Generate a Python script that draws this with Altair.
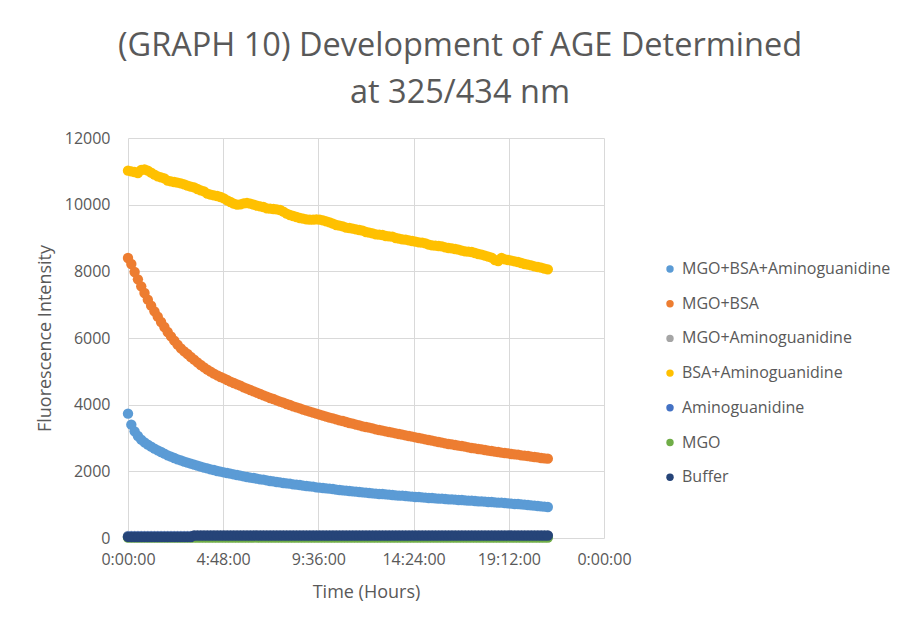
import altair as alt
import pandas as pd

# ---- data ----
series_names = [
    "MGO+BSA+Aminoguanidine",
    "MGO+BSA",
    "MGO+Aminoguanidine",
    "BSA+Aminoguanidine",
    "Aminoguanidine",
    "MGO",
    "Buffer",
]
series_colors = ["#5B9BD5", "#ED7D31", "#A5A5A5", "#FFC000", "#4472C4", "#70AD47", "#264478"]

# readings every 10 minutes, 0:00 .. 21:10 (one row per hour)
times_hours = [i / 6 for i in range(128)]

mgo_bsa_amino = [
    3730, 3400, 3200, 3060, 2950, 2870,
    2800, 2740, 2680, 2630, 2580, 2530,
    2480, 2440, 2400, 2360, 2330, 2290,
    2260, 2230, 2200, 2170, 2140, 2110,
    2090, 2060, 2040, 2010, 1990, 1970,
    1950, 1930, 1910, 1890, 1870, 1850,
    1830, 1810, 1800, 1780, 1760, 1750,
    1730, 1710, 1700, 1680, 1670, 1650,
    1640, 1630, 1610, 1600, 1590, 1570,
    1560, 1550, 1540, 1520, 1510, 1500,
    1490, 1480, 1470, 1450, 1440, 1430,
    1420, 1410, 1400, 1390, 1380, 1370,
    1360, 1350, 1340, 1330, 1320, 1320,
    1310, 1300, 1290, 1280, 1270, 1270,
    1260, 1250, 1240, 1230, 1230, 1220,
    1210, 1200, 1200, 1190, 1180, 1180,
    1170, 1160, 1160, 1150, 1140, 1140,
    1130, 1120, 1120, 1110, 1100, 1100,
    1090, 1080, 1080, 1070, 1060, 1060,
    1050, 1040, 1030, 1020, 1020, 1010,
    1000, 990, 980, 970, 960, 950,
    940, 930,
]
mgo_bsa = [
    8400, 8220, 7980, 7760, 7550, 7350,
    7150, 6970, 6800, 6640, 6480, 6330,
    6180, 6050, 5920, 5800, 5690, 5600,
    5520, 5430, 5350, 5270, 5190, 5120,
    5050, 4990, 4930, 4880, 4830, 4790,
    4740, 4690, 4650, 4610, 4570, 4520,
    4480, 4440, 4400, 4360, 4320, 4280,
    4240, 4200, 4170, 4130, 4090, 4060,
    4020, 3990, 3950, 3920, 3890, 3850,
    3820, 3790, 3760, 3730, 3700, 3670,
    3640, 3610, 3590, 3560, 3530, 3510,
    3480, 3450, 3430, 3400, 3380, 3350,
    3330, 3310, 3290, 3260, 3240, 3220,
    3200, 3180, 3160, 3140, 3120, 3100,
    3080, 3060, 3040, 3020, 3000, 2980,
    2960, 2940, 2920, 2900, 2880, 2860,
    2840, 2820, 2810, 2790, 2770, 2760,
    2740, 2720, 2700, 2690, 2670, 2660,
    2640, 2620, 2610, 2590, 2580, 2560,
    2550, 2540, 2520, 2510, 2500, 2480,
    2470, 2460, 2440, 2430, 2420, 2400,
    2390, 2380,
]
mgo_amino = [
    60, 61, 59, 60, 62, 60,
    59, 61, 60, 60, 61, 59,
    60, 62, 60, 61, 60, 59,
    60, 61, 60, 60, 62, 59,
    60, 61, 60, 59, 60, 61,
    60, 62, 60, 59, 61, 60,
    60, 59, 61, 60, 62, 60,
    59, 60, 61, 60, 60, 61,
    59, 60, 62, 60, 61, 60,
    59, 60, 61, 60, 62, 60,
    59, 61, 60, 60, 61, 59,
    60, 61, 60, 62, 60, 59,
    61, 60, 60, 61, 59, 60,
    62, 60, 61, 60, 59, 60,
    61, 60, 60, 59, 61, 60,
    62, 60, 59, 60, 61, 60,
    60, 61, 59, 60, 62, 60,
    61, 60, 59, 60, 61, 60,
    60, 62, 60, 59, 61, 60,
    59, 60, 61, 60, 60, 61,
    60, 59, 61, 60, 62, 60,
    61, 60,
]
bsa_amino = [
    11020, 11000, 10980, 10950, 11040, 11060,
    11020, 10960, 10900, 10850, 10820, 10790,
    10720, 10700, 10680, 10660, 10640, 10610,
    10570, 10540, 10520, 10470, 10430, 10400,
    10330, 10300, 10280, 10260, 10230, 10190,
    10130, 10080, 10030, 10000, 10010, 10040,
    10050, 10030, 10000, 9970, 9950, 9930,
    9890, 9880, 9870, 9860, 9840, 9790,
    9730, 9690, 9660, 9630, 9600, 9580,
    9560, 9550, 9550, 9560, 9550, 9530,
    9500, 9470, 9430, 9390, 9370, 9350,
    9310, 9300, 9280, 9260, 9240, 9220,
    9180, 9160, 9140, 9110, 9100, 9090,
    9060, 9050, 9040, 9000, 8980, 8960,
    8950, 8930, 8910, 8890, 8870, 8860,
    8840, 8800, 8780, 8770, 8760, 8750,
    8720, 8700, 8690, 8670, 8650, 8620,
    8600, 8590, 8580, 8550, 8520, 8500,
    8470, 8440, 8410, 8340, 8310, 8400,
    8360, 8340, 8320, 8300, 8280, 8250,
    8220, 8200, 8180, 8150, 8130, 8110,
    8080, 8060,
]
aminoguanidine = [
    45, 44, 46, 45, 45, 44,
    46, 45, 44, 45, 46, 45,
    45, 44, 45, 46, 45, 44,
    45, 46, 45, 44, 45, 45,
    46, 45, 44, 45, 46, 45,
    45, 44, 45, 46, 45, 44,
    45, 45, 46, 45, 44, 45,
    46, 45, 45, 44, 45, 46,
    45, 44, 45, 45, 46, 45,
    44, 45, 46, 45, 44, 45,
    45, 46, 45, 44, 45, 46,
    45, 45, 44, 45, 46, 45,
    44, 45, 45, 46, 45, 44,
    45, 46, 45, 45, 44, 45,
    46, 45, 44, 45, 45, 46,
    45, 44, 45, 46, 45, 45,
    44, 45, 46, 45, 44, 45,
    45, 46, 45, 44, 45, 46,
    45, 45, 44, 45, 46, 45,
    44, 45, 45, 46, 45, 44,
    45, 46, 45, 45, 44, 45,
    46, 45,
]
mgo = [
    15, 14, 16, 15, 15, 14,
    16, 15, 14, 15, 16, 15,
    15, 14, 15, 16, 15, 14,
    15, 16, 15, 14, 15, 15,
    16, 15, 14, 15, 16, 15,
    15, 14, 15, 16, 15, 14,
    15, 15, 16, 15, 14, 15,
    16, 15, 15, 14, 15, 16,
    15, 14, 15, 15, 16, 15,
    14, 15, 16, 15, 14, 15,
    15, 16, 15, 14, 15, 16,
    15, 15, 14, 15, 16, 15,
    14, 15, 15, 16, 15, 14,
    15, 16, 15, 15, 14, 15,
    16, 15, 14, 15, 15, 16,
    15, 14, 15, 16, 15, 15,
    14, 15, 16, 15, 14, 15,
    15, 16, 15, 14, 15, 16,
    15, 15, 14, 15, 16, 15,
    14, 15, 15, 16, 15, 14,
    15, 16, 15, 15, 14, 15,
    16, 15,
]
buffer = [
    32, 30, 31, 29, 30, 31,
    30, 29, 31, 30, 30, 31,
    30, 31, 29, 30, 31, 30,
    30, 29, 74, 75, 76, 75,
    74, 75, 76, 75, 75, 74,
    76, 75, 75, 74, 75, 76,
    75, 74, 75, 75, 76, 75,
    74, 75, 76, 75, 75, 74,
    75, 76, 75, 74, 75, 75,
    76, 75, 74, 75, 76, 75,
    75, 74, 75, 76, 75, 74,
    75, 75, 76, 75, 74, 75,
    76, 75, 75, 74, 75, 76,
    75, 74, 75, 75, 76, 75,
    74, 75, 76, 75, 75, 74,
    75, 76, 75, 74, 75, 75,
    76, 75, 74, 75, 76, 75,
    75, 74, 75, 76, 75, 74,
    75, 75, 76, 75, 74, 75,
    76, 75, 75, 74, 75, 76,
    75, 74, 75, 75, 76, 75,
    74, 75,
]
series_values = [mgo_bsa_amino, mgo_bsa, mgo_amino, bsa_amino, aminoguanidine, mgo, buffer]

x_tick_values = [0, 4.8, 9.6, 14.4, 19.2, 24]
x_tick_labels = ["0:00:00", "4:48:00", "9:36:00", "14:24:00", "19:12:00", "0:00:00"]
y_tick_values = [0, 2000, 4000, 6000, 8000, 10000, 12000]

rows = []
for name, vals in zip(series_names, series_values):
    for t, v in zip(times_hours, vals):
        rows.append({"series": name, "hours": t, "intensity": v})
df = pd.DataFrame(rows)

# label expression built from the tick lists
expr = "''"
for v, lab in reversed(list(zip(x_tick_values, x_tick_labels))):
    expr = f"abs(datum.value - {v}) < 0.01 ? '{lab}' : ({expr})"

FONT = "Open Sans"
GREY = "#595959"

chart = (
    alt.Chart(df)
    .mark_circle(size=108, opacity=1)
    .encode(
        x=alt.X(
            "hours:Q",
            scale=alt.Scale(domain=[0, 24], nice=False, zero=False),
            axis=alt.Axis(
                values=x_tick_values,
                labelExpr=expr,
                title="Time (Hours)",
                titleX=238,
                titleY=54,
                titleBaseline="middle",
                labelPadding=13,
            ),
        ),
        y=alt.Y(
            "intensity:Q",
            scale=alt.Scale(domain=[0, 12000], nice=False),
            axis=alt.Axis(
                values=y_tick_values,
                format="d",
                title="Fluorescence Intensity",
                titleX=-83,
                titleY=200,
                titleBaseline="middle",
                labelPadding=18,
            ),
        ),
        color=alt.Color(
            "series:N",
            scale=alt.Scale(domain=series_names, range=series_colors),
            legend=alt.Legend(
                title=None,
                orient="none",
                legendX=534,
                legendY=123,
                symbolType="circle",
                symbolSize=55,
                labelFont=FONT,
                labelFontSize=16,
                labelColor=GREY,
                rowPadding=18.7,
                labelOffset=4,
                labelLimit=300,
            ),
        ),
    )
    .properties(
        width=476,
        height=400,
        autosize="none",
        padding={"left": 128, "top": 138, "right": 296, "bottom": 89},
        title=alt.TitleParams(
            ["(GRAPH 10) Development of AGE Determined", "at 325/434 nm"],
            font=FONT,
            fontSize=32.5,
            fontWeight="normal",
            color=GREY,
            anchor="middle",
            frame="group",
            dx=94,
            lineHeight=47,
            offset=21,
        ),
    )
    .configure(background="white")
    .configure_view(stroke=None)
    .configure_axis(
        labelFont=FONT,
        labelFontSize=16,
        labelColor=GREY,
        labelFlush=False,
        titleFont=FONT,
        titleFontSize=18,
        titleFontWeight="normal",
        titleColor=GREY,
        grid=True,
        gridColor="#D9D9D9",
        gridWidth=1,
        domain=False,
        ticks=False,
    )
)

chart.save("out.html", embed_options={"renderer": "svg", "actions": False})
